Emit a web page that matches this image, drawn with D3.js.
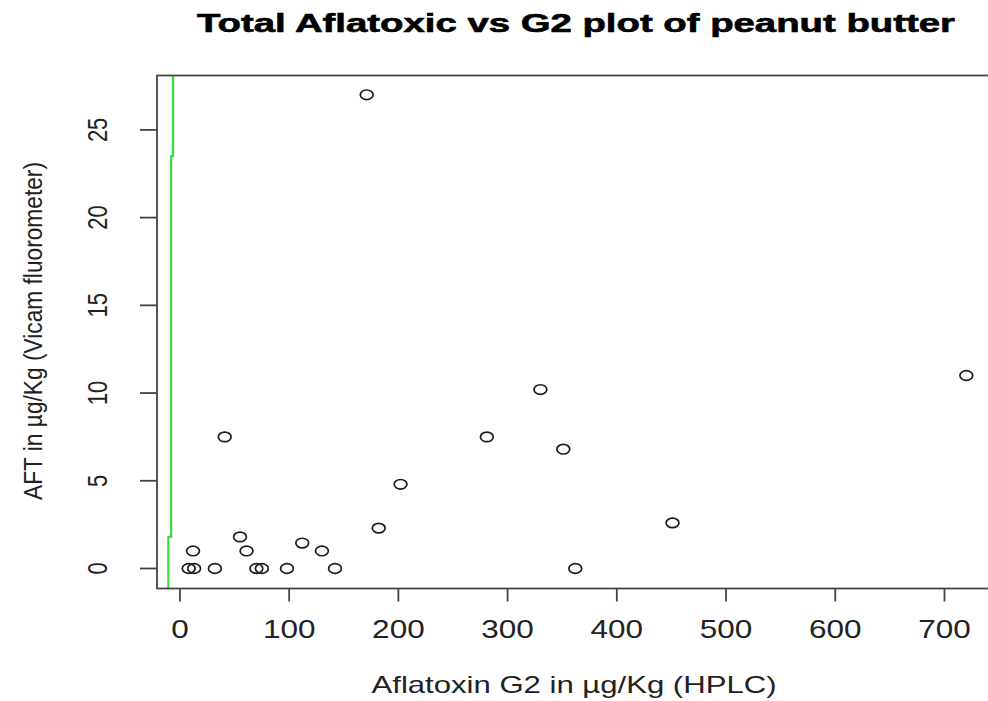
<!DOCTYPE html>
<html>
<head>
<meta charset="utf-8">
<script src="https://cdn.jsdelivr.net/npm/d3@7"></script>
<style>
  html, body { margin: 0; padding: 0; background: #fff; }
  svg { display: block; font-family: "Liberation Sans", Arial, sans-serif; }
</style>
</head>
<body>
<div id="chart"></div>
<script>
/* global d3 */

// scatter points
var g2Hplc = [171, 720, 330, 281, 41, 351, 202, 451, 182, 55, 112, 12, 61, 130, 8, 13, 32, 70, 75, 98, 142, 362];
var aftVicam = [27, 11, 10.2, 7.5, 7.5, 6.8, 4.8, 2.6, 2.3, 1.8, 1.45, 1, 1, 1, 0, 0, 0, 0, 0, 0, 0, 0];

// the green near-vertical step line at the left edge
var lineX = [-6.3, -6.3, -8.1, -8.1, -10.6, -10.6];
var lineY = [28.1, 23.5, 23.5, 1.8, 1.8, -1.14];

var xTicks = [0, 100, 200, 300, 400, 500, 600, 700];
var yTicks = [0, 5, 10, 15, 20, 25];

var TITLE = 'Total Aflatoxic vs G2 plot of peanut butter';
var X_LABEL = 'Aflatoxin G2 in \u00b5g/Kg (HPLC)';
var Y_LABEL = 'AFT in \u00b5g/Kg (Vicam fluorometer)';

var WIDTH = 988, HEIGHT = 701;
var box = { left: 157, top: 75.5, right: 998, bottom: 588.5 };
var STRETCH = 1.26; // the picture is wider than it is tall

var svg = d3.select('#chart')
  .append('svg')
  .attr('width', WIDTH)
  .attr('height', HEIGHT)
;

var x = d3.scaleLinear().domain([-21, 749]).range([box.left, box.right]);
var y = d3.scaleLinear().domain([-1.14, 28.1]).range([box.bottom, box.top]);

svg.append('clipPath').attr('id', 'plot-clip')
  .append('rect')
    .attr('x', box.left)
    .attr('y', box.top)
    .attr('width', box.right - box.left)
    .attr('height', box.bottom - box.top)
;

// green line
var line = d3.line()
  .x(function(d) { return x(d[0]); })
  .y(function(d) { return y(d[1]); })
;
svg.append('path')
  .datum(d3.zip(lineX, lineY))
  .attr('clip-path', 'url(#plot-clip)')
  .attr('d', line)
  .attr('fill', 'none')
  .attr('stroke', '#3ddc3d')
  .attr('stroke-width', 2.2)
;

// points, drawn as open circles (squashed like the picture)
svg.append('g').selectAll('ellipse')
  .data(d3.zip(g2Hplc, aftVicam))
  .enter().append('ellipse')
    .attr('cx', function(d) { return x(d[0]); })
    .attr('cy', function(d) { return y(d[1]); })
    .attr('rx', 6.4)
    .attr('ry', 4.8)
    .attr('fill', 'none')
    .attr('stroke', '#1a1a1a')
    .attr('stroke-width', 1.7)
;

// plot box
svg.append('rect')
  .attr('x', box.left)
  .attr('y', box.top)
  .attr('width', box.right - box.left)
  .attr('height', box.bottom - box.top)
  .attr('fill', 'none')
  .attr('stroke', '#444')
  .attr('stroke-width', 1.8)
;

// x axis
var xAxis = svg.append('g').attr('transform', 'translate(0,' + box.bottom + ')');
xAxis.selectAll('line')
  .data(xTicks)
  .enter().append('line')
    .attr('x1', x).attr('x2', x)
    .attr('y1', 0).attr('y2', 13)
    .attr('stroke', '#444')
    .attr('stroke-width', 1.8)
;
xAxis.selectAll('text')
  .data(xTicks)
  .enter().append('text')
    .attr('transform', function(d) { return 'translate(' + x(d) + ',49) scale(' + STRETCH + ',1)'; })
    .attr('text-anchor', 'middle')
    .attr('font-size', 25)
    .attr('fill', '#222')
    .text(function(d) { return d; })
;

// y axis
var yAxis = svg.append('g').attr('transform', 'translate(' + box.left + ',0)');
yAxis.selectAll('line')
  .data(yTicks)
  .enter().append('line')
    .attr('x1', -17).attr('x2', 0)
    .attr('y1', y).attr('y2', y)
    .attr('stroke', '#444')
    .attr('stroke-width', 1.8)
;
yAxis.selectAll('text')
  .data(yTicks)
  .enter().append('text')
    .attr('transform', function(d) { return 'translate(-50,' + y(d) + ') rotate(-90) scale(1,' + STRETCH + ')'; })
    .attr('text-anchor', 'middle')
    .attr('font-size', 22)
    .attr('fill', '#222')
    .text(function(d) { return d; })
;

// titles
svg.append('text')
  .attr('x', 576)
  .attr('y', 32)
  .attr('text-anchor', 'middle')
  .attr('font-size', 25)
  .attr('font-weight', 'bold')
  .attr('fill', '#000')
  .attr('stroke', '#000')
  .attr('stroke-width', 0.6)
  .attr('textLength', 758)
  .attr('lengthAdjust', 'spacingAndGlyphs')
  .text(TITLE)
;

svg.append('text')
  .attr('x', 574)
  .attr('y', 693)
  .attr('text-anchor', 'middle')
  .attr('font-size', 24)
  .attr('fill', '#222')
  .attr('textLength', 405)
  .attr('lengthAdjust', 'spacingAndGlyphs')
  .text(X_LABEL)
;

svg.append('text')
  .attr('transform', 'translate(42,331) rotate(-90) scale(1,' + STRETCH + ')')
  .attr('text-anchor', 'middle')
  .attr('font-size', 20)
  .attr('fill', '#222')
  .attr('textLength', 338)
  .attr('lengthAdjust', 'spacingAndGlyphs')
  .text(Y_LABEL)
;
</script>
</body>
</html>
